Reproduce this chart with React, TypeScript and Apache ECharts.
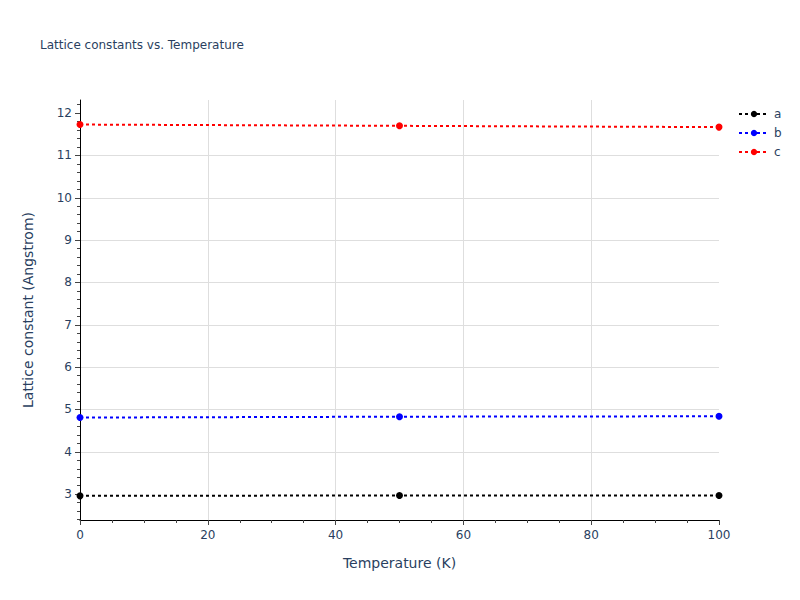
import { useEffect, useRef } from 'react'
import * as echarts from 'echarts'

// 数据
const temperatures = [0, 50, 100]
const aValues = [2.96, 2.97, 2.97]
const bValues = [4.81, 4.83, 4.84]
const cValues = [11.73, 11.7, 11.67]
const yTickValues = [3, 4, 5, 6, 7, 8, 9, 10, 11, 12]

const seriesList = [
    { name: 'a', color: '#000000', values: aValues },
    { name: 'b', color: '#0000ff', values: bValues },
    { name: 'c', color: '#ff0000', values: cValues },
]

const textColor = '#2a3f5f'
const gridColor = '#dedede'
const font = '"DejaVu Sans", Verdana, sans-serif'

export default function App() {
    const chartRef = useRef<HTMLDivElement>(null)

    useEffect(() => {
        if (!chartRef.current) return
        const chart = echarts.init(chartRef.current, null, { renderer: 'svg' })

        chart.setOption({
            animation: false,
            backgroundColor: '#ffffff',
            textStyle: { fontFamily: font },
            title: {
                text: 'Lattice constants vs. Temperature',
                left: 35,
                top: 34,
                textStyle: { fontSize: 12, fontWeight: 'normal', color: textColor, fontFamily: font },
            },
            legend: {
                orient: 'vertical',
                left: 733,
                top: 103,
                itemWidth: 30,
                itemHeight: 8,
                itemGap: 7,
                textStyle: { fontSize: 12, color: textColor, fontFamily: font },
                data: seriesList.map(s => s.name),
            },
            grid: { left: 80, right: 81, top: 100, bottom: 80, containLabel: false },
            xAxis: {
                type: 'value',
                min: 0,
                max: 100,
                interval: 20,
                name: 'Temperature (K)',
                nameLocation: 'middle',
                nameGap: 36,
                nameTextStyle: { fontSize: 14, color: textColor, fontFamily: font },
                axisLine: { show: true, onZero: false, lineStyle: { color: '#000000', width: 1 } },
                axisTick: { show: true, length: 5, lineStyle: { color: '#444444' } },
                minorTick: { show: true, splitNumber: 4, length: 3, lineStyle: { color: '#444444' } },
                axisLabel: { fontSize: 12, color: textColor, margin: 9, fontFamily: font },
                splitLine: { show: true, showMinLine: false, showMaxLine: false, lineStyle: { color: gridColor, width: 1 } },
            },
            yAxis: {
                type: 'value',
                min: 2.39,
                max: 12.31,
                splitNumber: 10,
                name: 'Lattice constant (Angstrom)',
                nameLocation: 'middle',
                nameGap: 45,
                nameTextStyle: { fontSize: 14, color: textColor, fontFamily: font },
                axisLine: { show: true, onZero: false, lineStyle: { color: '#000000', width: 1 } },
                axisTick: { show: true, length: 5, customValues: yTickValues, lineStyle: { color: '#444444' } },
                minorTick: { show: true, splitNumber: 5, length: 3, lineStyle: { color: '#444444' } },
                axisLabel: { fontSize: 12, color: textColor, margin: 8, customValues: yTickValues, fontFamily: font },
                splitLine: { show: true, showMinLine: false, showMaxLine: false, lineStyle: { color: gridColor, width: 1 } },
            },
            series: seriesList.map(s => ({
                name: s.name,
                type: 'line',
                data: temperatures.map((t, i) => [t, s.values[i]]),
                symbol: 'circle',
                symbolSize: 7,
                showSymbol: true,
                clip: false,
                itemStyle: { color: s.color },
                lineStyle: { color: s.color, width: 2, type: [3, 3] },
            })),
        })

        return () => {
            chart.dispose()
        }
    }, [])

    return (
        <div
            ref={chartRef}
            style={{ position: 'absolute', left: 0, top: 0, width: 800, height: 600 }}
        />
    )
}
